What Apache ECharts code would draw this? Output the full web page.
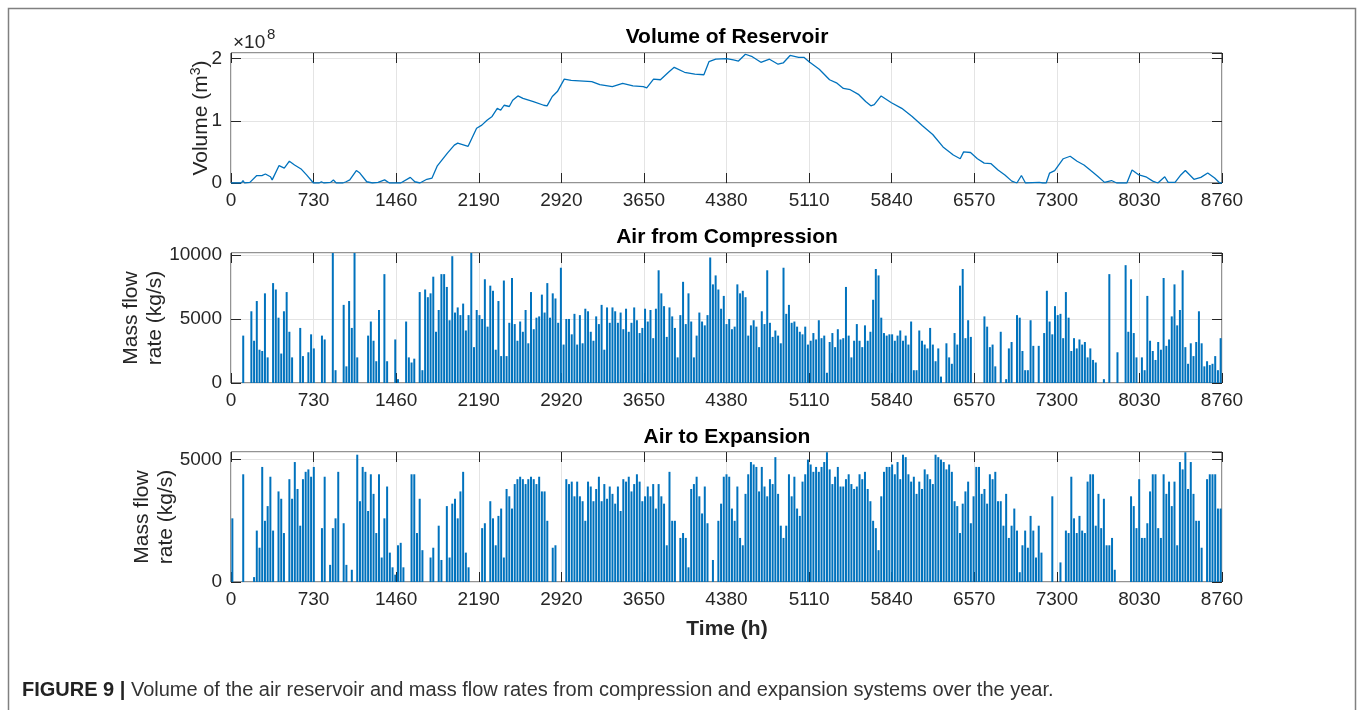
<!DOCTYPE html>
<html>
<head>
<meta charset="utf-8">
<script src="https://cdn.jsdelivr.net/npm/echarts/dist/echarts.min.js"></script>
<style>
  html, body { margin: 0; padding: 0; background: #fff; }
  #chart { width: 1360px; height: 710px; }
</style>
</head>
<body>
<div id="chart"></div>
<script>
// reservoir volume, x1e8 m3
const volHours = [0, 91, 106, 120, 167, 228, 273, 304, 349, 364, 425, 471, 516, 562, 623, 668, 729, 780, 799, 820, 880, 905, 930, 990, 1017, 1050, 1108, 1139, 1200, 1250, 1300, 1358, 1400, 1500, 1585, 1625, 1670, 1731, 1777, 1822, 1913, 1974, 2004, 2096, 2171, 2217, 2263, 2308, 2354, 2384, 2414, 2460, 2490, 2536, 2581, 2673, 2764, 2794, 2840, 2885, 2946, 3007, 3189, 3260, 3371, 3462, 3553, 3644, 3675, 3735, 3796, 3872, 3918, 4009, 4100, 4180, 4225, 4285, 4380, 4441, 4486, 4547, 4608, 4684, 4760, 4836, 4881, 4942, 5018, 5064, 5110, 5200, 5291, 5352, 5413, 5474, 5550, 5610, 5656, 5686, 5747, 5838, 5929, 6021, 6112, 6203, 6294, 6385, 6446, 6476, 6537, 6598, 6658, 6719, 6780, 6841, 6902, 6947, 6987, 7023, 7145, 7175, 7206, 7236, 7281, 7357, 7418, 7479, 7540, 7600, 7661, 7722, 7783, 7829, 7919, 7965, 8026, 8087, 8148, 8193, 8254, 8284, 8345, 8391, 8436, 8512, 8573, 8634, 8695, 8740, 8760];
const volValues = [0, 0, 0.04, 0, 0.01, 0.12, 0.12, 0.145, 0.1, 0.05, 0.28, 0.24, 0.35, 0.29, 0.22, 0.13, 0, 0, 0.02, 0, 0.01, 0.05, 0, 0, 0.02, 0.05, 0.2, 0.16, 0.02, 0, 0.01, 0.05, 0, 0, 0.09, 0.02, 0, 0.06, 0.08, 0.27, 0.48, 0.61, 0.64, 0.59, 0.88, 0.93, 1.01, 1.07, 1.2, 1.17, 1.25, 1.23, 1.33, 1.4, 1.36, 1.31, 1.25, 1.24, 1.39, 1.47, 1.67, 1.65, 1.63, 1.58, 1.55, 1.6, 1.56, 1.55, 1.53, 1.67, 1.66, 1.79, 1.86, 1.78, 1.75, 1.74, 1.95, 1.99, 2.0, 1.98, 1.96, 2.07, 2.03, 1.94, 1.99, 1.91, 1.93, 2.05, 2.02, 2.02, 1.95, 1.83, 1.66, 1.61, 1.52, 1.5, 1.42, 1.31, 1.24, 1.26, 1.4, 1.29, 1.2, 1.07, 0.92, 0.78, 0.58, 0.45, 0.39, 0.5, 0.49, 0.39, 0.32, 0.31, 0.21, 0.13, 0.03, 0, 0.12, 0, 0.01, 0, 0, 0.16, 0.2, 0.39, 0.43, 0.35, 0.29, 0.2, 0.11, 0.01, 0.04, 0, 0, 0.21, 0.13, 0.1, 0.03, 0, 0.1, 0.01, 0.01, 0.12, 0.2, 0.06, 0.09, 0.16, 0.08, 0, 0];

// daily peak mass flow, kg/s (day 0..364)
const compPeak = [
  0, 0, 0, 0, 3700, 0, 0, 5600, 3300, 6400,
  2600, 2500, 7000, 2000, 0, 7800, 7300, 5100, 2300, 5600,
  7100, 4000, 2000, 0, 0, 4300, 2100, 0, 2400, 3800,
  2700, 0, 0, 3700, 3400, 0, 0, 10150, 1000, 0,
  0, 6100, 1300, 6400, 4300, 10150, 2000, 0, 0, 0,
  3700, 4800, 3300, 1700, 5700, 0, 8500, 1700, 0, 0,
  3400, 300, 0, 0, 4800, 2000, 1600, 1900, 0, 7100,
  1000, 7300, 6700, 7000, 8300, 4000, 5700, 8500, 8500, 7500,
  4900, 9900, 5500, 5900, 5300, 6200, 4100, 5300, 10150, 2800,
  5700, 5300, 5000, 8100, 4400, 7600, 7200, 2600, 6400, 2100,
  8000, 2100, 4700, 8200, 4600, 3300, 4800, 4000, 5700, 3100,
  7100, 4200, 5100, 5200, 6900, 5500, 7800, 5100, 7000, 6600,
  4700, 9000, 3000, 5000, 5000, 3800, 5400, 3000, 5300, 3100,
  5800, 5600, 4000, 3300, 5200, 4600, 6100, 2600, 5900, 4700,
  5900, 5600, 4700, 5500, 4200, 5800, 4000, 4700, 5900, 4900,
  3900, 4300, 5800, 4800, 5700, 3500, 5800, 8800, 7000, 6000,
  3600, 5900, 5200, 4300, 2000, 5300, 7900, 4600, 7000, 4800,
  2000, 3700, 5500, 4800, 4500, 5300, 9800, 7700, 8400, 7300,
  5800, 6800, 4600, 5000, 4200, 4400, 7700, 7000, 7200, 6700,
  3700, 4500, 4900, 4400, 2800, 5600, 4600, 8800, 4700, 3600,
  4100, 3700, 3100, 9000, 5400, 6100, 4700, 4800, 4400, 4000,
  3800, 4400, 3000, 3300, 3900, 3400, 4900, 3500, 3700, 800,
  3200, 3900, 2800, 4200, 3400, 3500, 7500, 3700, 2000, 3300,
  4600, 3300, 2800, 4500, 3300, 4000, 6500, 8900, 8400, 5100,
  3900, 3700, 3800, 3800, 3300, 3700, 4100, 3300, 3700, 3000,
  4800, 1000, 1000, 4100, 3300, 3000, 2700, 4300, 3000, 1700,
  2700, 500, 0, 3100, 2000, 1500, 3900, 3000, 7600, 8900,
  3500, 4900, 3600, 0, 0, 0, 0, 5200, 4400, 2800,
  3000, 1300, 0, 4000, 0, 300, 2700, 3200, 0, 5300,
  5100, 2500, 1000, 1000, 4900, 2900, 0, 2900, 0, 3900,
  7200, 4800, 3800, 6000, 5300, 5400, 3500, 7100, 5100, 2500,
  3500, 2700, 3400, 3000, 3200, 2000, 2700, 1800, 1600, 0,
  0, 300, 0, 8500, 0, 0, 2400, 0, 0, 9200,
  4000, 8100, 3900, 2000, 0, 2000, 1000, 6800, 3300, 2500,
  1800, 3200, 2600, 8200, 2900, 3400, 5200, 7700, 4500, 5700,
  8800, 2800, 1500, 3100, 2100, 3200, 5600, 3100, 1300, 1700,
  1400, 1500, 2100, 1000, 3500
];
const expPeak = [
  2600, 0, 0, 0, 4400, 0, 0, 0, 200, 2100,
  1400, 4700, 2500, 3100, 4300, 2100, 0, 3700, 3400, 2000,
  0, 4200, 3400, 4900, 3800, 2300, 4200, 4500, 4600, 4300,
  4700, 0, 0, 2200, 4300, 0, 700, 2200, 2600, 4500,
  0, 2400, 700, 0, 500, 0, 5200, 3300, 4700, 4500,
  2900, 4400, 3600, 2000, 4400, 1000, 2600, 3900, 1200, 600,
  300, 1500, 1600, 600, 0, 0, 4400, 4400, 2000, 3400,
  1300, 0, 0, 1000, 1400, 0, 2300, 900, 0, 3100,
  1000, 3200, 3400, 2600, 3700, 4500, 1200, 600, 0, 0,
  0, 0, 2200, 2400, 0, 3300, 2600, 1500, 2700, 3000,
  1000, 3800, 3500, 3000, 4000, 4200, 4300, 4200, 4000, 4200,
  4300, 4200, 4000, 4300, 3700, 3700, 2500, 0, 1400, 1500,
  0, 0, 0, 4200, 4000, 4100, 3500, 4100, 3500, 3300,
  2500, 4100, 3900, 3300, 3800, 4300, 3300, 4000, 3400, 3900,
  3600, 3200, 3900, 2900, 4200, 4100, 4300, 3700, 4000, 4400,
  4100, 3300, 3500, 3900, 3500, 4000, 3000, 4000, 3500, 3200,
  1500, 4500, 2500, 2500, 0, 1800, 2000, 1800, 600, 3800,
  4000, 4300, 3500, 2800, 3900, 2400, 0, 900, 0, 2500,
  3200, 4300, 4400, 4300, 3000, 2500, 3900, 1800, 1500, 3600,
  4400, 4900, 4800, 4700, 3700, 4700, 3900, 3500, 4200, 4000,
  5100, 3600, 2300, 1800, 2300, 4400, 3500, 4300, 3000, 2700,
  4100, 4400, 5000, 4800, 4500, 4700, 4500, 4700, 4900, 5300,
  4600, 4000, 4300, 4700, 3900, 3900, 4200, 4400, 4000, 3800,
  3900, 4400, 4200, 4500, 3800, 3300, 2500, 2200, 1300, 3500,
  4500, 4700, 4700, 4800, 4400, 4900, 4200, 5200, 5100, 4400,
  4100, 4300, 3600, 4100, 3800, 4600, 4400, 4200, 4000, 5200,
  5100, 5000, 4900, 4600, 4800, 4500, 3300, 3100, 2000, 3200,
  3700, 4100, 2400, 3500, 4700, 4700, 3600, 3800, 3200, 4400,
  4200, 4500, 3300, 3300, 2300, 3600, 1800, 2300, 3000, 2100,
  400, 1500, 2100, 1400, 2700, 2100, 1000, 2300, 1200, 0,
  0, 0, 3500, 0, 0, 800, 0, 2100, 2000, 4300,
  2600, 2000, 2700, 2100, 2000, 4100, 4400, 4400, 2300, 3600,
  2200, 3400, 1500, 1500, 1800, 500, 0, 0, 0, 0,
  0, 3500, 3100, 2200, 4200, 1800, 1800, 2400, 3700, 4400,
  4400, 2200, 1800, 4400, 3600, 4100, 3100, 4100, 1500, 4900,
  4600, 5300, 3800, 4900, 3600, 2500, 2500, 1400, 0, 4200,
  4400, 4400, 4400, 3000, 3000
];

const panelTitles = ['Volume of Reservoir', 'Air from Compression', 'Air to Expansion'];
const yMax = [2.09, 10150, 5310];
const yInterval = [1, 5000, 5000];

const FONT = '"Liberation Sans", Arial, Helvetica, sans-serif';
const AX = '#262626';
const BLUE = '#0072BD';
const GRID_TOP = [53, 253, 452];
const plain = v => String(v);
const tick = { inside: true, length: 10, lineStyle: { color: AX } };
const noLine = { show: false, onZero: false };

const chart = echarts.init(document.getElementById('chart'));

const grids = GRID_TOP.map(t => ({
  left: 231, top: t, width: 991, height: 130,
  show: true, borderColor: AX, borderWidth: 1, backgroundColor: 'transparent'
}));

const xAxes = [];
[0, 1, 2].forEach(i => {
  xAxes.push({
    gridIndex: i, type: 'value', position: 'bottom', min: 0, max: 8760, interval: 730,
    axisLine: noLine, axisTick: tick,
    axisLabel: { fontSize: 19, color: AX, margin: 8, fontFamily: FONT, formatter: plain },
    splitLine: { show: true, lineStyle: { color: '#e4e4e4' } }
  });
});
[0, 1, 2].forEach(i => {
  xAxes.push({
    gridIndex: i, type: 'value', position: 'top', min: 0, max: 8760, interval: 730,
    axisLine: noLine, axisTick: tick,
    axisLabel: { show: false }, splitLine: { show: false }
  });
});

const yNames = ['Volume (m{s|3})', 'Mass flow\nrate (kg/s)', 'Mass flow\nrate (kg/s)'];
const yGaps = [18, 64, 53];
const yAxes = [];
[0, 1, 2].forEach(i => {
  yAxes.push({
    gridIndex: i, type: 'value', position: 'left', min: 0, max: yMax[i], interval: yInterval[i],
    axisLine: noLine, axisTick: tick,
    axisLabel: { fontSize: 19, color: AX, margin: 9, fontFamily: FONT, showMaxLabel: false, formatter: plain },
    splitLine: { show: true, lineStyle: { color: '#e4e4e4' } },
    name: yNames[i], nameLocation: 'middle', nameRotate: 90, nameGap: yGaps[i],
    nameMoveOverlap: false,
    nameTextStyle: {
      fontSize: 21, color: AX, fontFamily: FONT, lineHeight: 24,
      rich: { s: { fontSize: 14, verticalAlign: 'top', color: AX, fontFamily: FONT } }
    }
  });
});
[0, 1, 2].forEach(i => {
  yAxes.push({
    gridIndex: i, type: 'value', position: 'right', min: 0, max: yMax[i], interval: yInterval[i],
    axisLine: noLine, axisTick: tick,
    axisLabel: { show: false }, splitLine: { show: false }
  });
});

const txt = (text, x, y, font, extra) => ({
  type: 'text', silent: true,
  style: Object.assign({
    text: text, x: x, y: y, font: font, fill: '#000',
    align: 'center', verticalAlign: 'middle', textAlign: 'center', textVerticalAlign: 'middle'
  }, extra || {})
});

const graphics = [
  { type: 'rect', silent: true, shape: { x: 8.5, y: 8.5, width: 1347, height: 720 },
    style: { fill: 'none', stroke: '#808080', lineWidth: 1.5 } },
  txt(panelTitles[0], 727, 37, 'bold 21px ' + FONT),
  txt(panelTitles[1], 727, 237, 'bold 21px ' + FONT),
  txt(panelTitles[2], 727, 437, 'bold 21px ' + FONT),
  txt('Time (h)', 727, 629, 'bold 21px ' + FONT, { fill: AX }),
  txt('\u00d710', 233, 43, '19px ' + FONT, { fill: AX, align: 'left', textAlign: 'left' }),
  txt('8', 267, 35, '15px ' + FONT, { fill: AX, align: 'left', textAlign: 'left' }),
  {
    type: 'text', silent: true,
    style: {
      text: '{b|FIGURE 9 |} Volume of the air reservoir and mass flow rates from compression and expansion systems over the year.',
      x: 22, y: 690, verticalAlign: 'middle', textVerticalAlign: 'middle',
      font: '20px ' + FONT, fill: '#333',
      rich: { b: { fontWeight: 'bold', fontSize: 20, fontFamily: FONT, fill: '#222' } }
    }
  }
];

chart.setOption({
  animation: false,
  backgroundColor: '#fff',
  grid: grids,
  xAxis: xAxes,
  yAxis: yAxes,
  graphic: graphics,
  series: [
    {
      type: 'line', xAxisIndex: 0, yAxisIndex: 0, showSymbol: false, smooth: false,
      lineStyle: { color: BLUE, width: 1.3 }, itemStyle: { color: BLUE },
      data: volHours.map((h, i) => [h, volValues[i]])
    },
    {
      type: 'bar', xAxisIndex: 1, yAxisIndex: 1, barWidth: 2,
      itemStyle: { color: BLUE },
      data: compPeak.map((v, d) => [d * 24 + 12, v])
    },
    {
      type: 'bar', xAxisIndex: 2, yAxisIndex: 2, barWidth: 2,
      itemStyle: { color: BLUE },
      data: expPeak.map((v, d) => [d * 24 + 12, v])
    }
  ]
});
</script>
</body>
</html>
